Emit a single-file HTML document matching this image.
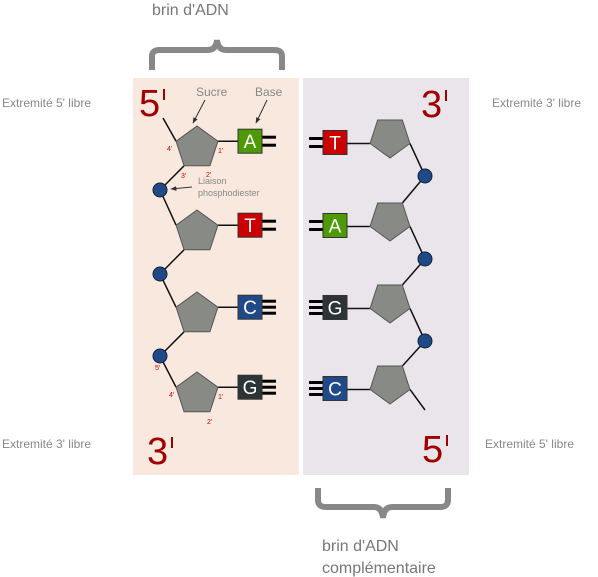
<!DOCTYPE html>
<html><head><meta charset="utf-8"><style>
html,body{margin:0;padding:0;background:#fff;}
svg{display:block;font-family:"Liberation Sans",sans-serif;}
</style></head><body>
<svg width="598" height="577" viewBox="0 0 598 577">
<defs>
<marker id="ar" viewBox="0 0 10 10" refX="9" refY="5" markerWidth="6" markerHeight="6" orient="auto"><path d="M0,1 L10,5 L0,9 z" fill="#333"/></marker>
</defs>
<rect x="133" y="78" width="166" height="397" fill="#f9e8de"/>
<rect x="303" y="78" width="166" height="397" fill="#eae5eb"/>

<text x="152" y="15" font-size="16" fill="#777">brin d'ADN</text>
<path d="M152,70 L152,56 Q152,50 160,50 L208,50 Q216,50 217,40 Q218,50 226,50 L274,50 Q282,50 282,56 L282,70" fill="none" stroke="#888" stroke-width="6"/>
<path d="M318,488 L318,500 Q318,507 326,507 L374,507 Q382,507 383,518 Q384,507 392,507 L440,507 Q448,507 448,500 L448,488" fill="none" stroke="#888" stroke-width="6"/>
<text x="322" y="551" font-size="16" fill="#777">brin d'ADN</text>
<text x="322" y="573" font-size="16" fill="#777">complémentaire</text>

<g font-size="12" fill="#888">
<text x="2" y="107">Extremité 5' libre</text>
<text x="492" y="107">Extremité 3' libre</text>
<text x="2" y="448">Extremité 3' libre</text>
<text x="485" y="448">Extremité 5' libre</text>
</g>

<g fill="#a00000" font-size="38">
<text x="139" y="116">5</text>
<rect x="163" y="89" width="2" height="11"/>
<text x="421" y="117">3</text>
<rect x="445" y="90" width="2" height="11"/>
<text x="147" y="464">3</text>
<rect x="171" y="437" width="2" height="11"/>
<text x="422" y="462">5</text>
<rect x="446" y="435" width="2" height="11"/>
</g>

<text x="196" y="96" font-size="12" fill="#888">Sucre</text>
<text x="255" y="96" font-size="12" fill="#888">Base</text>
<line x1="205" y1="100" x2="193" y2="123" stroke="#333" stroke-width="1" marker-end="url(#ar)"/>
<line x1="267" y1="100" x2="256" y2="123" stroke="#333" stroke-width="1" marker-end="url(#ar)"/>
<text x="198" y="184" font-size="9" fill="#888">Liaison</text>
<text x="198" y="196" font-size="9" fill="#888">phosphodiester</text>
<line x1="192" y1="187" x2="171" y2="189" stroke="#333" stroke-width="1" marker-end="url(#ar)"/>

<g id="left" stroke="#111" stroke-width="1.5" fill="none"></g>
<g id="right" stroke="#111" stroke-width="1.5" fill="none"></g>

<g font-size="7" fill="#c00">
<text x="167" y="151">4'</text><text x="218" y="153">1'</text><text x="181" y="178">3'</text><text x="206" y="177">2'</text>
<text x="155" y="370">5'</text><text x="169" y="397">4'</text><text x="218" y="399">1'</text><text x="207" y="424">2'</text>
</g>
</svg>
<script>
const leftBases=['A','T','C','G'];
const rightBases=['T','A','G','C'];
const bondCount={A:2,T:2,C:3,G:3};
const color={A:'#4e9a06',T:'#cc0000',C:'#204a87',G:'#2e3436'};
const NS='http://www.w3.org/2000/svg';
function mk(p,tag,a){const e=document.createElementNS(NS,tag);for(const k in a)e.setAttribute(k,a[k]);p.appendChild(e);return e;}
const L=document.getElementById('left'),R=document.getElementById('right');
const svg=document.querySelector('svg');
const ly=[148,232,314,394], ry=[137,220,302,383];
function pent(cx,cy,r,inv){const pts=[];for(let i=0;i<5;i++){const a=(inv?90:-90)+i*72;pts.push([cx+r*Math.cos(a*Math.PI/180),cy+r*Math.sin(a*Math.PI/180)]);}return pts;}
function base(letter,x,y,side,i,strand){
  const n=bondCount[letter];
  for(let k=0;k<n;k++){const yy=n==2?y-4+k*8:y-6+k*6;
    const ln=mk(svg,'line',{x1:side>0?x+24:x-14,x2:side>0?x+38:x,y1:yy,y2:yy,stroke:'#000','stroke-width':3});
    }
  const r=mk(svg,'rect',{x:x,y:y-12,width:24,height:24,fill:color[letter],stroke:'#333','stroke-width':1});
  
  const t=mk(svg,'text',{x:x+12,y:y+7,'font-size':19,fill:'#fff','text-anchor':'middle'});t.textContent=letter;
  
}
// left strand
leftBases.forEach((b,i)=>{
  const p=pent(197,ly[i],22,false);
  if(i==0) mk(L,'line',{x1:163,y1:118,x2:p[4][0],y2:p[4][1]});
  else mk(L,'line',{x1:160,y1:ly[i-1]+42,x2:p[4][0],y2:p[4][1]});
  if(i<3) mk(L,'line',{x1:p[3][0],y1:p[3][1],x2:160,y2:ly[i]+42});
  mk(L,'line',{x1:p[1][0],y1:p[1][1],x2:238,y2:p[1][1]});
  const pg=mk(svg,'polygon',{points:p.map(q=>q.join(',')).join(' '),fill:'#888a85',stroke:'#555','stroke-width':1});
  
  base(b,238,p[1][1],1,i,'left');
});
for(let i=0;i<3;i++){const c=mk(svg,'circle',{cx:160,cy:ly[i]+42,r:7,fill:'#204a87',stroke:'#123',"stroke-width":1});
  }
// right strand
rightBases.forEach((b,i)=>{
  const p=pent(390,ry[i],21,true);
  if(i>0) mk(R,'line',{x1:425,y1:ry[i-1]+39,x2:p[3][0],y2:p[3][1]});
  mk(R,'line',{x1:p[4][0],y1:p[4][1],x2:i<3?425:425,y2:i<3?ry[i]+39:410});
  mk(R,'line',{x1:p[1][0],y1:p[1][1],x2:347,y2:p[1][1]});
  const pg=mk(svg,'polygon',{points:p.map(q=>q.join(',')).join(' '),fill:'#888a85',stroke:'#555','stroke-width':1});
  
  base(b,323,p[1][1]-1,-1,i,'right');
});
for(let i=0;i<3;i++){const c=mk(svg,'circle',{cx:425,cy:ry[i]+39,r:7,fill:'#204a87',stroke:'#123',"stroke-width":1});
  }
</script>
</body></html>
